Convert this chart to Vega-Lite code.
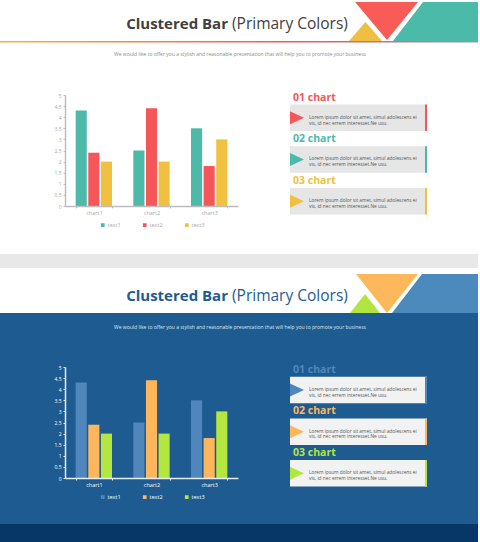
{
  "$schema": "https://vega.github.io/schema/vega-lite/v6.json",
  "background": "#ffffff",
  "padding": {"left": 0, "top": 1, "right": 0, "bottom": 0},
  "spacing": 6,
  "config": {"font": "Open Sans", "view": {"stroke": null}},
  "datasets": {
    "bars": [
      {"chart": "chart1", "series": "text1", "value": 4.3},
      {"chart": "chart1", "series": "text2", "value": 2.4},
      {"chart": "chart1", "series": "text3", "value": 2.0},
      {"chart": "chart2", "series": "text1", "value": 2.5},
      {"chart": "chart2", "series": "text2", "value": 4.4},
      {"chart": "chart2", "series": "text3", "value": 2.0},
      {"chart": "chart3", "series": "text1", "value": 3.5},
      {"chart": "chart3", "series": "text2", "value": 1.8},
      {"chart": "chart3", "series": "text3", "value": 3.0}
    ],
    "cards": [
      {"n": "01 chart", "body": "Lorem ipsum dolor sit amet, simul adolescens ei\nvis, id nec errem interesset.Ne usu."},
      {"n": "02 chart", "body": "Lorem ipsum dolor sit amet, simul adolescens ei\nvis, id nec errem interesset.Ne usu."},
      {"n": "03 chart", "body": "Lorem ipsum dolor sit amet, simul adolescens ei\nvis, id nec errem interesset.Ne usu."}
    ]
  },
  "vconcat": [
    {
      "width": 478,
      "height": 266,
      "view": {"fill": "#ffffff", "stroke": null},
      "resolve": {"scale": {"x": "independent", "y": "independent", "color": "independent"}},
      "layer": [
        {
          "data": {"values": [{}]},
          "layer": [
            {
              "mark": {"type": "rect", "color": "#e8e8e8"},
              "encoding": {
                "x": {"datum": 0, "type": "quantitative", "scale": {"domain": [0, 478], "nice": false, "zero": false}, "axis": null},
                "x2": {"datum": 478},
                "y": {"datum": 252, "type": "quantitative", "scale": {"domain": [0, 266], "nice": false, "zero": false, "reverse": true}, "axis": null},
                "y2": {"datum": 266}
              }
            },
            {
              "mark": {"type": "point", "filled": true, "opacity": 1, "color": "#efbf44", "size": 1089, "shape": "M-1,0.576 L1,0.576 L0,-0.576 Z"},
              "encoding": {
                "x": {"datum": 365.5, "type": "quantitative", "scale": {"domain": [0, 478], "nice": false, "zero": false}, "axis": null},
                "y": {"datum": 29.5, "type": "quantitative", "scale": {"domain": [0, 266], "nice": false, "zero": false, "reverse": true}, "axis": null}
              }
            },
            {
              "mark": {"type": "point", "filled": true, "opacity": 1, "color": "#f95b57", "size": 3969, "shape": "M-1,-0.603 L1,-0.603 L0.016,0.603 Z"},
              "encoding": {
                "x": {"datum": 386.5, "type": "quantitative", "scale": {"domain": [0, 478], "nice": false, "zero": false}, "axis": null},
                "y": {"datum": 19, "type": "quantitative", "scale": {"domain": [0, 266], "nice": false, "zero": false, "reverse": true}, "axis": null}
              }
            },
            {
              "mark": {"type": "point", "filled": true, "opacity": 1, "color": "#4cbaa8", "size": 7225, "shape": "M-0.294,-0.459 L1,-0.459 L1,0.459 L-1,0.459 Z"},
              "encoding": {
                "x": {"datum": 435.5, "type": "quantitative", "scale": {"domain": [0, 478], "nice": false, "zero": false}, "axis": null},
                "y": {"datum": 19.5, "type": "quantitative", "scale": {"domain": [0, 266], "nice": false, "zero": false, "reverse": true}, "axis": null}
              }
            },
            {
              "mark": {
                "type": "rect",
                "fill": {
                  "gradient": "linear",
                  "stops": [
                    {"offset": 0, "color": "#f2b53e"},
                    {"offset": 0.35, "color": "#f47f4e"},
                    {"offset": 0.6, "color": "#ef5a5a"},
                    {"offset": 0.82, "color": "#c0787c"},
                    {"offset": 1, "color": "#8f9d9d"}
                  ]
                }
              },
              "encoding": {
                "x": {"datum": 0, "type": "quantitative", "scale": {"domain": [0, 478], "nice": false, "zero": false}, "axis": null},
                "x2": {"datum": 478},
                "y": {"datum": 39, "type": "quantitative", "scale": {"domain": [0, 266], "nice": false, "zero": false, "reverse": true}, "axis": null},
                "y2": {"datum": 40.4}
              }
            },
            {
              "mark": {"type": "text", "align": "right", "baseline": "alphabetic", "fontSize": 15, "fontWeight": "bold", "color": "#404040"},
              "encoding": {
                "text": {"value": "Clustered Bar"},
                "x": {"datum": 228, "type": "quantitative", "scale": {"domain": [0, 478], "nice": false, "zero": false}, "axis": null},
                "y": {"datum": 27, "type": "quantitative", "scale": {"domain": [0, 266], "nice": false, "zero": false, "reverse": true}, "axis": null}
              }
            },
            {
              "mark": {"type": "text", "align": "left", "baseline": "alphabetic", "fontSize": 15.5, "color": "#404040"},
              "encoding": {
                "text": {"value": "(Primary Colors)"},
                "x": {"datum": 232, "type": "quantitative", "scale": {"domain": [0, 478], "nice": false, "zero": false}, "axis": null},
                "y": {"datum": 27, "type": "quantitative", "scale": {"domain": [0, 266], "nice": false, "zero": false, "reverse": true}, "axis": null}
              }
            },
            {
              "mark": {"type": "text", "align": "center", "baseline": "middle", "fontSize": 5, "color": "#8a8a8a"},
              "encoding": {
                "text": {"value": "We would like to offer you a stylish and reasonable presentation that will help you to promote your business"},
                "x": {"datum": 240, "type": "quantitative", "scale": {"domain": [0, 478], "nice": false, "zero": false}, "axis": null},
                "y": {"datum": 52, "type": "quantitative", "scale": {"domain": [0, 266], "nice": false, "zero": false, "reverse": true}, "axis": null}
              }
            }
          ]
        },
        {
          "data": {"name": "bars"},
          "mark": {"type": "bar"},
          "encoding": {
            "x": {
              "field": "chart", "type": "nominal",
              "scale": {"range": [65, 238], "paddingInner": 0.37, "paddingOuter": 0.185},
              "axis": {"orient": "bottom", "offset": -62, "zindex": 1, "title": null, "labelAngle": 0, "tickBand": "extent", "domainColor": "#bdbdbd", "domainWidth": 1.5, "tickColor": "#bdbdbd", "tickSize": 2, "labelColor": "#a8a8a8", "labelFontSize": 5.5, "labelPadding": 2}
            },
            "xOffset": {"field": "series", "type": "nominal", "scale": {"paddingInner": 0.12}},
            "y": {
              "field": "value", "type": "quantitative",
              "scale": {"domain": [0, 5], "range": [204, 93], "nice": false},
              "axis": {"orient": "left", "offset": -65, "zindex": 1, "title": null, "grid": false, "format": "~g", "values": [0, 0.5, 1, 1.5, 2, 2.5, 3, 3.5, 4, 4.5, 5], "domainColor": "#bdbdbd", "domainWidth": 1.5, "tickColor": "#bdbdbd", "tickSize": 2, "labelColor": "#a8a8a8", "labelFontSize": 5, "labelPadding": 2}
            },
            "color": {
              "field": "series", "type": "nominal",
              "scale": {"domain": ["text1", "text2", "text3"], "range": ["#4dbaa9", "#f5565a", "#f0c040"]},
              "legend": {"orient": "none", "legendX": 100, "legendY": 220, "direction": "horizontal", "title": null, "symbolType": "square", "symbolSize": 14, "symbolStrokeWidth": 0, "labelFontSize": 5.5, "labelColor": "#a8a8a8", "labelOffset": 2, "columnPadding": 21}
            }
          }
        },
        {
          "data": {"name": "cards"},
          "layer": [
            {
              "mark": {"type": "rect", "color": "#e6e6e6"},
              "encoding": {
                "x": {"datum": 290, "type": "quantitative", "scale": {"domain": [0, 478], "nice": false, "zero": false}, "axis": null},
                "x2": {"datum": 427},
                "y": {"field": "n", "type": "nominal", "scale": {"range": [102.5, 212.4], "paddingInner": 0.365, "paddingOuter": 0}, "axis": null}
              }
            },
            {
              "mark": {"type": "rect"},
              "encoding": {
                "x": {"datum": 425, "type": "quantitative", "scale": {"domain": [0, 478], "nice": false, "zero": false}, "axis": null},
                "x2": {"datum": 427},
                "y": {"field": "n", "type": "nominal", "axis": null},
                "color": {"field": "n", "type": "nominal", "scale": {"domain": ["01 chart", "02 chart", "03 chart"], "range": ["#f5565a", "#4dbaa9", "#f0c040"]}, "legend": null}
              }
            },
            {
              "mark": {"type": "point", "filled": true, "opacity": 1, "size": 196, "shape": "M-1,-0.93 L1,0 L-1,0.93 Z"},
              "encoding": {
                "x": {"datum": 297, "type": "quantitative", "scale": {"domain": [0, 478], "nice": false, "zero": false}, "axis": null},
                "y": {"field": "n", "type": "nominal", "axis": null},
                "color": {"field": "n", "type": "nominal", "legend": null}
              }
            },
            {
              "mark": {"type": "text", "align": "left", "baseline": "middle", "fontSize": 10.5, "fontWeight": "bold", "dy": -7},
              "encoding": {
                "text": {"field": "n"},
                "x": {"datum": 293, "type": "quantitative", "scale": {"domain": [0, 478], "nice": false, "zero": false}, "axis": null},
                "y": {"field": "n", "type": "nominal", "bandPosition": 0, "axis": null},
                "color": {"field": "n", "type": "nominal", "legend": null}
              }
            },
            {
              "mark": {"type": "text", "align": "left", "baseline": "middle", "fontSize": 4.8, "lineBreak": "\n", "lineHeight": 5.8, "color": "#555555"},
              "encoding": {
                "text": {"field": "body"},
                "x": {"datum": 309, "type": "quantitative", "scale": {"domain": [0, 478], "nice": false, "zero": false}, "axis": null},
                "y": {"field": "n", "type": "nominal", "axis": null}
              }
            }
          ]
        }
      ]
    },
    {
      "width": 478,
      "height": 268,
      "view": {"fill": "#ffffff", "stroke": null},
      "resolve": {"scale": {"x": "independent", "y": "independent", "color": "independent"}},
      "layer": [
        {
          "data": {"values": [{}]},
          "layer": [
            {
              "mark": {"type": "rect", "color": "#1e5b90"},
              "encoding": {
                "x": {"datum": 0, "type": "quantitative", "scale": {"domain": [0, 478], "nice": false, "zero": false}, "axis": null},
                "x2": {"datum": 478},
                "y": {"datum": 39, "type": "quantitative", "scale": {"domain": [0, 268], "nice": false, "zero": false, "reverse": true}, "axis": null},
                "y2": {"datum": 250}
              }
            },
            {
              "mark": {"type": "rect", "color": "#063767"},
              "encoding": {
                "x": {"datum": 0, "type": "quantitative", "scale": {"domain": [0, 478], "nice": false, "zero": false}, "axis": null},
                "x2": {"datum": 478},
                "y": {"datum": 250, "type": "quantitative", "scale": {"domain": [0, 268], "nice": false, "zero": false, "reverse": true}, "axis": null},
                "y2": {"datum": 268}
              }
            },
            {
              "mark": {"type": "point", "filled": true, "opacity": 1, "color": "#b2e540", "size": 900, "shape": "M-1,0.63 L1,0.63 L0,-0.63 Z"},
              "encoding": {
                "x": {"datum": 365, "type": "quantitative", "scale": {"domain": [0, 478], "nice": false, "zero": false}, "axis": null},
                "y": {"datum": 29.5, "type": "quantitative", "scale": {"domain": [0, 268], "nice": false, "zero": false, "reverse": true}, "axis": null}
              }
            },
            {
              "mark": {"type": "point", "filled": true, "opacity": 1, "color": "#fdb85c", "size": 3844, "shape": "M-1,-0.629 L1,-0.629 L0,0.629 Z"},
              "encoding": {
                "x": {"datum": 387, "type": "quantitative", "scale": {"domain": [0, 478], "nice": false, "zero": false}, "axis": null},
                "y": {"datum": 19.5, "type": "quantitative", "scale": {"domain": [0, 268], "nice": false, "zero": false, "reverse": true}, "axis": null}
              }
            },
            {
              "mark": {"type": "point", "filled": true, "opacity": 1, "color": "#4c89bd", "size": 7396, "shape": "M-0.302,-0.453 L1,-0.453 L1,0.453 L-1,0.453 Z"},
              "encoding": {
                "x": {"datum": 435, "type": "quantitative", "scale": {"domain": [0, 478], "nice": false, "zero": false}, "axis": null},
                "y": {"datum": 19.5, "type": "quantitative", "scale": {"domain": [0, 268], "nice": false, "zero": false, "reverse": true}, "axis": null}
              }
            },
            {
              "mark": {"type": "text", "align": "right", "baseline": "alphabetic", "fontSize": 15, "fontWeight": "bold", "color": "#1e5b90"},
              "encoding": {
                "text": {"value": "Clustered Bar"},
                "x": {"datum": 228, "type": "quantitative", "scale": {"domain": [0, 478], "nice": false, "zero": false}, "axis": null},
                "y": {"datum": 27, "type": "quantitative", "scale": {"domain": [0, 268], "nice": false, "zero": false, "reverse": true}, "axis": null}
              }
            },
            {
              "mark": {"type": "text", "align": "left", "baseline": "alphabetic", "fontSize": 15.5, "color": "#1e5b90"},
              "encoding": {
                "text": {"value": "(Primary Colors)"},
                "x": {"datum": 232, "type": "quantitative", "scale": {"domain": [0, 478], "nice": false, "zero": false}, "axis": null},
                "y": {"datum": 27, "type": "quantitative", "scale": {"domain": [0, 268], "nice": false, "zero": false, "reverse": true}, "axis": null}
              }
            },
            {
              "mark": {"type": "text", "align": "center", "baseline": "middle", "fontSize": 5, "color": "#dde6ef"},
              "encoding": {
                "text": {"value": "We would like to offer you a stylish and reasonable presentation that will help you to promote your business"},
                "x": {"datum": 240, "type": "quantitative", "scale": {"domain": [0, 478], "nice": false, "zero": false}, "axis": null},
                "y": {"datum": 53, "type": "quantitative", "scale": {"domain": [0, 268], "nice": false, "zero": false, "reverse": true}, "axis": null}
              }
            }
          ]
        },
        {
          "data": {"name": "bars"},
          "mark": {"type": "bar"},
          "encoding": {
            "x": {
              "field": "chart", "type": "nominal",
              "scale": {"range": [65, 238], "paddingInner": 0.37, "paddingOuter": 0.185},
              "axis": {"orient": "bottom", "offset": -64, "zindex": 1, "title": null, "labelAngle": 0, "tickBand": "extent", "domainColor": "#e6edf5", "domainWidth": 1.5, "tickColor": "#e6edf5", "tickSize": 2, "labelColor": "#ffffff", "labelFontSize": 5.5, "labelPadding": 2}
            },
            "xOffset": {"field": "series", "type": "nominal", "scale": {"paddingInner": 0.12}},
            "y": {
              "field": "value", "type": "quantitative",
              "scale": {"domain": [0, 5], "range": [204, 93], "nice": false},
              "axis": {"orient": "left", "offset": -65, "zindex": 1, "title": null, "grid": false, "format": "~g", "values": [0, 0.5, 1, 1.5, 2, 2.5, 3, 3.5, 4, 4.5, 5], "domainColor": "#e6edf5", "domainWidth": 1.5, "tickColor": "#e6edf5", "tickSize": 2, "labelColor": "#ffffff", "labelFontSize": 5, "labelPadding": 2}
            },
            "color": {
              "field": "series", "type": "nominal",
              "scale": {"domain": ["text1", "text2", "text3"], "range": ["#4f87bc", "#fdb65c", "#b4e640"]},
              "legend": {"orient": "none", "legendX": 100, "legendY": 220, "direction": "horizontal", "title": null, "symbolType": "square", "symbolSize": 14, "symbolStrokeWidth": 0, "labelFontSize": 5.5, "labelColor": "#ffffff", "labelOffset": 2, "columnPadding": 21}
            }
          }
        },
        {
          "data": {"name": "cards"},
          "layer": [
            {
              "mark": {"type": "rect", "color": "#f2f2f2"},
              "encoding": {
                "x": {"datum": 290, "type": "quantitative", "scale": {"domain": [0, 478], "nice": false, "zero": false}, "axis": null},
                "x2": {"datum": 427},
                "y": {"field": "n", "type": "nominal", "scale": {"range": [102.7, 212.6], "paddingInner": 0.365, "paddingOuter": 0}, "axis": null}
              }
            },
            {
              "mark": {"type": "rect"},
              "encoding": {
                "x": {"datum": 425, "type": "quantitative", "scale": {"domain": [0, 478], "nice": false, "zero": false}, "axis": null},
                "x2": {"datum": 427},
                "y": {"field": "n", "type": "nominal", "axis": null},
                "color": {"field": "n", "type": "nominal", "scale": {"domain": ["01 chart", "02 chart", "03 chart"], "range": ["#4f87bc", "#fdb65c", "#b4e640"]}, "legend": null}
              }
            },
            {
              "mark": {"type": "point", "filled": true, "opacity": 1, "size": 196, "shape": "M-1,-0.93 L1,0 L-1,0.93 Z"},
              "encoding": {
                "x": {"datum": 297, "type": "quantitative", "scale": {"domain": [0, 478], "nice": false, "zero": false}, "axis": null},
                "y": {"field": "n", "type": "nominal", "axis": null},
                "color": {"field": "n", "type": "nominal", "legend": null}
              }
            },
            {
              "mark": {"type": "text", "align": "left", "baseline": "middle", "fontSize": 10.5, "fontWeight": "bold", "dy": -7},
              "encoding": {
                "text": {"field": "n"},
                "x": {"datum": 293, "type": "quantitative", "scale": {"domain": [0, 478], "nice": false, "zero": false}, "axis": null},
                "y": {"field": "n", "type": "nominal", "bandPosition": 0, "axis": null},
                "color": {"field": "n", "type": "nominal", "legend": null}
              }
            },
            {
              "mark": {"type": "text", "align": "left", "baseline": "middle", "fontSize": 4.8, "lineBreak": "\n", "lineHeight": 5.8, "color": "#555555"},
              "encoding": {
                "text": {"field": "body"},
                "x": {"datum": 309, "type": "quantitative", "scale": {"domain": [0, 478], "nice": false, "zero": false}, "axis": null},
                "y": {"field": "n", "type": "nominal", "axis": null}
              }
            }
          ]
        }
      ]
    }
  ]
}
